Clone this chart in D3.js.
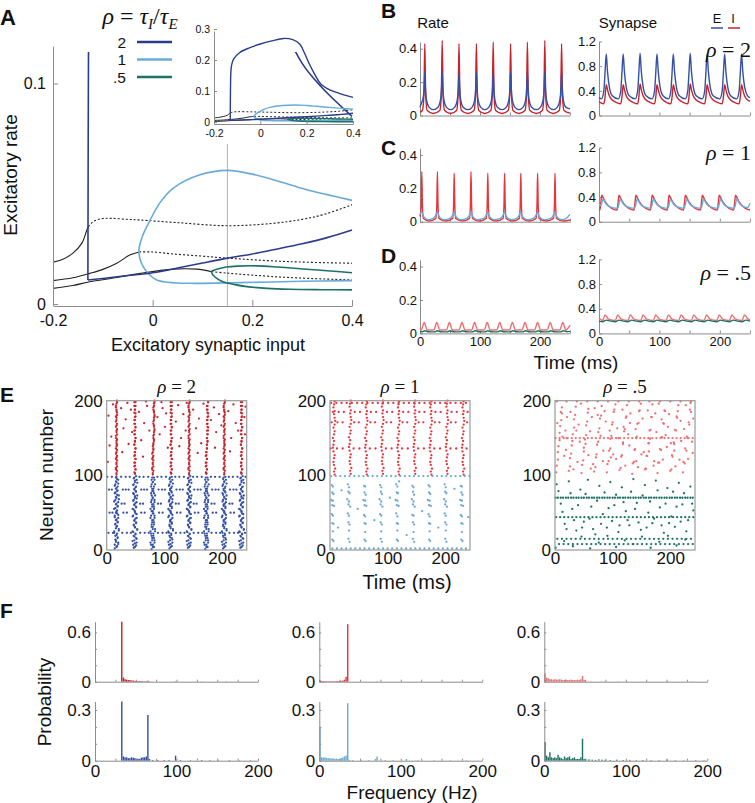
<!DOCTYPE html>
<html><head><meta charset="utf-8">
<script src="https://cdn.jsdelivr.net/npm/d3@7/dist/d3.min.js"></script>
<style>html,body{margin:0;padding:0;background:#fff}svg{display:block}</style>
</head><body>
<svg id="chart" width="755" height="803" xmlns="http://www.w3.org/2000/svg"></svg>
<script>
// ======================= DATA =======================
// ---- Panel A : branches [excitatory synaptic input, excitatory rate]
const rhoValues = ["2", "1", ".5"];
const aXTicks = [-0.2, 0, 0.2, 0.4];
const aYTicks = [0, 0.1];
const insetYTicks = [0, 0.1, 0.2, 0.3];
const markerLine = [[0.15, 0], [0.15, 0.0735]];
const black1Solid = [[-0.2,0.0199],[-0.18,0.0212],[-0.16,0.024],[-0.142,0.0285],[-0.132,0.0345],[-0.129,0.036]];
const black1Dotted = [[-0.129,0.036],[-0.119,0.0383],[-0.105,0.0395],[-0.092,0.0398],[-0.05,0.0393],[-0.026,0.039],[0.05,0.0378],[0.15,0.0364],[0.242,0.0375],[0.3,0.0393],[0.342,0.0414],[0.4,0.0459]];
const black2Solid = [[-0.2,0.0115],[-0.16,0.0128],[-0.126,0.0148],[-0.1,0.0166],[-0.072,0.0194],[-0.045,0.0232],[-0.027,0.0245]];
const black2Dotted = [[-0.027,0.0245],[0,0.0245],[0.041,0.0236],[0.1,0.0226],[0.15,0.0217],[0.275,0.0201],[0.4,0.0194]];
const black3Solid = [[-0.2,0.008],[-0.16,0.0093],[-0.126,0.011],[-0.075,0.0128],[-0.025,0.0148],[0.041,0.0167],[0.088,0.0167],[0.118,0.0156]];
const black3Dotted = [[0.118,0.0156],[0.15,0.0149],[0.2,0.014],[0.275,0.0129],[0.4,0.0118]];
const rho2Lower = [[-0.13,0.0118],[-0.1,0.0125],[-0.05,0.0138],[0,0.0151],[0.05,0.0172],[0.1,0.0195],[0.15,0.0217],[0.2,0.0236],[0.242,0.0255],[0.3,0.0282],[0.35,0.031],[0.4,0.0345]];
const rho2Upper = [[-0.13,0.0118],[-0.1295,0.06],[-0.129,0.1],[-0.127,0.17],[-0.124,0.19],[-0.115,0.21],[-0.09,0.23],[-0.05,0.245],[0,0.258],[0.05,0.268],[0.1,0.276],[0.14,0.272],[0.17,0.258],[0.19,0.23],[0.21,0.196],[0.235,0.16],[0.26,0.13],[0.3,0.11],[0.34,0.099],[0.4,0.086]];
const rho1Loop = [[0.4,0.0479],[0.35,0.0505],[0.309,0.0527],[0.242,0.0573],[0.2,0.0598],[0.15,0.0615],[0.095,0.0595],[0.0415,0.0535],[0.015,0.047],[-0.005,0.039],[-0.02,0.032],[-0.0275,0.0255],[-0.025,0.021],[-0.019,0.0179],[-0.008,0.0145],[0.008,0.0118],[0.03,0.0108],[0.075,0.0103],[0.175,0.0106],[0.3,0.0112],[0.4,0.0115]];
const rho05Loop = [[0.4,0.0151],[0.35,0.016],[0.309,0.0167],[0.25,0.0177],[0.209,0.0182],[0.17,0.0181],[0.148,0.0177],[0.13,0.0168],[0.118,0.0156],[0.122,0.0138],[0.13,0.0123],[0.141,0.011],[0.165,0.0097],[0.189,0.0088],[0.23,0.008],[0.275,0.0076],[0.34,0.0074],[0.4,0.0073]];

// ---- Panels B-D : time series [time ms, value]
const timeTicks = [0, 50, 100, 150, 200, 250];
const timeLabels = [0, 100, 200];
const rateTicks = [0, 0.2, 0.4];
const synTicks = [0, 0.4, 0.8, 1.2];
const rateI_B = [[0,0.02],[4,0.03],[6.5,0.12],[8,0.43],[9.5,0.12],[12,0.03],[22,0.012],[33,0.03],[35.5,0.12],[37,0.45],[38.5,0.12],[41,0.03],[51,0.012],[61,0.03],[63.5,0.12],[65,0.43],[66.5,0.12],[69,0.03],[80,0.012],[90,0.03],[92.5,0.12],[94,0.43],[95.5,0.12],[98,0.03],[108,0.012],[118,0.03],[120.5,0.12],[122,0.44],[123.5,0.12],[126,0.03],[137,0.012],[147,0.03],[149.5,0.12],[151,0.43],[152.5,0.12],[155,0.03],[165,0.012],[175,0.03],[177.5,0.12],[179,0.44],[180.5,0.12],[183,0.03],[194,0.012],[204,0.03],[206.5,0.12],[208,0.45],[209.5,0.12],[212,0.03],[222,0.012],[232,0.03],[234.5,0.12],[236,0.43],[237.5,0.12],[240,0.03],[250,0.014]];
const rateE_B = [[0,0.05],[3,0.08],[5,0.1],[7,0.17],[8,0.26],[9,0.17],[11,0.09],[15,0.05],[22,0.035],[30,0.05],[34,0.09],[36,0.17],[37,0.26],[38,0.17],[40,0.09],[44,0.05],[51,0.035],[58,0.05],[62,0.09],[64,0.17],[65,0.25],[66,0.17],[68,0.09],[72,0.05],[80,0.035],[87,0.05],[91,0.09],[93,0.17],[94,0.26],[95,0.17],[97,0.09],[101,0.05],[108,0.035],[115,0.05],[119,0.09],[121,0.17],[122,0.26],[123,0.17],[125,0.09],[129,0.05],[137,0.035],[144,0.05],[148,0.09],[150,0.17],[151,0.26],[152,0.17],[154,0.09],[158,0.05],[165,0.035],[172,0.05],[176,0.09],[178,0.17],[179,0.26],[180,0.17],[182,0.09],[186,0.05],[194,0.035],[201,0.05],[205,0.09],[207,0.17],[208,0.26],[209,0.17],[211,0.09],[215,0.05],[222,0.035],[229,0.05],[233,0.09],[235,0.17],[236,0.26],[237,0.17],[239,0.09],[243,0.05],[250,0.04]];
const synE_B = [[0,0.29],[4,0.27],[8,0.4],[10,0.7],[12,1.0],[14,0.72],[17,0.47],[22,0.32],[32,0.27],[36,0.4],[38,0.7],[40,1.0],[42,0.72],[45,0.47],[50,0.32],[60,0.27],[64,0.4],[66,0.7],[68,1.01],[70,0.72],[73,0.47],[78,0.32],[88,0.27],[92,0.4],[94,0.7],[96,1.0],[98,0.72],[101,0.47],[106,0.32],[115,0.27],[119,0.4],[121,0.7],[123,1.0],[125,0.72],[128,0.47],[133,0.32],[143,0.27],[147,0.4],[149,0.7],[151,1.01],[153,0.72],[156,0.47],[161,0.32],[171,0.27],[175,0.4],[177,0.7],[179,1.0],[181,0.72],[184,0.47],[189,0.32],[200,0.27],[204,0.4],[206,0.7],[208,1.0],[210,0.72],[213,0.47],[218,0.32],[228,0.27],[232,0.4],[234,0.7],[236,1.0],[238,0.72],[241,0.47],[246,0.32],[250,0.29]];
const synI_B = [[0,0.22],[4,0.2],[8,0.19],[10,0.3],[12,0.5],[14,0.42],[17,0.32],[22,0.25],[29,0.21],[36,0.19],[38,0.3],[40,0.5],[42,0.42],[45,0.32],[50,0.25],[57,0.21],[64,0.19],[66,0.3],[68,0.51],[70,0.42],[73,0.32],[78,0.25],[85,0.21],[92,0.19],[94,0.3],[96,0.5],[98,0.42],[101,0.32],[106,0.25],[112,0.21],[119,0.19],[121,0.3],[123,0.5],[125,0.42],[128,0.32],[133,0.25],[140,0.21],[147,0.19],[149,0.3],[151,0.51],[153,0.42],[156,0.32],[161,0.25],[168,0.21],[175,0.19],[177,0.3],[179,0.5],[181,0.42],[184,0.32],[189,0.25],[197,0.21],[204,0.19],[206,0.3],[208,0.5],[210,0.42],[213,0.32],[218,0.25],[225,0.21],[232,0.19],[234,0.3],[236,0.5],[238,0.42],[241,0.32],[246,0.25],[250,0.23]];
const rateI_C = [[0,0.03],[2,0.1],[3,0.3],[4,0.1],[5.5,0.02],[15,0.004],[26.5,0.02],[28,0.1],[29,0.3],[30,0.1],[31.5,0.02],[43,0.004],[54.5,0.02],[56,0.1],[57,0.29],[58,0.1],[59.5,0.02],[71,0.004],[82.5,0.02],[84,0.1],[85,0.3],[86,0.1],[87.5,0.02],[99,0.004],[110.5,0.02],[112,0.1],[113,0.29],[114,0.1],[115.5,0.02],[127,0.004],[138.5,0.02],[140,0.1],[141,0.29],[142,0.1],[143.5,0.02],[155,0.004],[165.5,0.02],[167,0.1],[168,0.29],[169,0.1],[170.5,0.02],[182,0.004],[193.5,0.02],[195,0.1],[196,0.29],[197,0.1],[198.5,0.02],[210,0.004],[222.5,0.02],[224,0.1],[225,0.29],[226,0.1],[227.5,0.02],[239,0.004],[250,0.01]];
const rateE_C = [[0,0.045],[1.5,0.055],[3,0.058],[4.5,0.045],[7,0.025],[14,0.012],[21,0.018],[25,0.03],[27.5,0.048],[29,0.058],[30.5,0.045],[33,0.025],[40,0.012],[49,0.018],[53,0.03],[55.5,0.048],[57,0.056],[58.5,0.045],[61,0.025],[68,0.012],[77,0.018],[81,0.03],[83.5,0.048],[85,0.058],[86.5,0.045],[89,0.025],[96,0.012],[105,0.018],[109,0.03],[111.5,0.048],[113,0.056],[114.5,0.045],[117,0.025],[124,0.012],[133,0.018],[137,0.03],[139.5,0.048],[141,0.057],[142.5,0.045],[145,0.025],[152,0.012],[160,0.018],[164,0.03],[166.5,0.048],[168,0.056],[169.5,0.045],[172,0.025],[179,0.012],[188,0.018],[192,0.03],[194.5,0.048],[196,0.057],[197.5,0.045],[200,0.025],[207,0.012],[217,0.018],[221,0.03],[223.5,0.048],[225,0.056],[226.5,0.045],[229,0.025],[236,0.012],[244,0.02],[250,0.045]];
const synI_C = [[0,0.19],[1.5,0.19],[3,0.3],[4.5,0.43],[6.5,0.4],[10.5,0.32],[16.5,0.25],[24.5,0.2],[30,0.19],[31.5,0.3],[33,0.43],[35,0.4],[39,0.32],[45,0.25],[53,0.2],[58,0.19],[59.5,0.3],[61,0.43],[63,0.4],[67,0.32],[73,0.25],[81,0.2],[85,0.19],[86.5,0.3],[88,0.43],[90,0.4],[94,0.32],[100,0.25],[108,0.2],[113,0.19],[114.5,0.3],[116,0.43],[118,0.4],[122,0.32],[128,0.25],[136,0.2],[140,0.19],[141.5,0.3],[143,0.43],[145,0.4],[149,0.32],[155,0.25],[163,0.2],[168,0.19],[169.5,0.3],[171,0.43],[173,0.4],[177,0.32],[183,0.25],[191,0.2],[196,0.19],[197.5,0.3],[199,0.43],[201,0.4],[205,0.32],[211,0.25],[219,0.2],[223,0.19],[224.5,0.3],[226,0.43],[228,0.4],[232,0.32],[238,0.25],[246,0.2],[250,0.19]];
const synE_C = [[0,0.3],[2.5,0.26],[4.5,0.3],[6.5,0.37],[8.5,0.34],[12.5,0.28],[18.5,0.24],[26.5,0.22],[31,0.22],[33,0.28],[35,0.37],[37,0.34],[41,0.28],[47,0.24],[55,0.22],[59,0.22],[61,0.28],[63,0.37],[65,0.34],[69,0.28],[75,0.24],[83,0.22],[86,0.22],[88,0.28],[90,0.37],[92,0.34],[96,0.28],[102,0.24],[110,0.22],[114,0.22],[116,0.28],[118,0.37],[120,0.34],[124,0.28],[130,0.24],[138,0.22],[141,0.22],[143,0.28],[145,0.37],[147,0.34],[151,0.28],[157,0.24],[165,0.22],[169,0.22],[171,0.28],[173,0.37],[175,0.34],[179,0.28],[185,0.24],[193,0.22],[197,0.22],[199,0.28],[201,0.37],[203,0.34],[207,0.28],[213,0.24],[221,0.22],[224,0.22],[226,0.28],[228,0.37],[230,0.34],[234,0.28],[240,0.24],[246,0.23],[250,0.3]];
const rateI_D = [[0,0.03],[2,0.02],[7,0.065],[12,0.02],[23,0.02],[28,0.065],[33,0.02],[44,0.02],[49,0.065],[54,0.02],[65,0.02],[70,0.065],[75,0.02],[86,0.02],[91,0.065],[96,0.02],[107,0.02],[112,0.065],[117,0.02],[128,0.02],[133,0.065],[138,0.02],[149,0.02],[154,0.065],[159,0.02],[170,0.02],[175,0.065],[180,0.02],[191,0.02],[196,0.065],[201,0.02],[212,0.02],[217,0.065],[222,0.02],[233,0.02],[238,0.065],[243,0.02],[250,0.05]];
const rateE_D = [[0,0.012],[3,0.009],[8,0.016],[14,0.01],[24,0.009],[29,0.016],[35,0.01],[45,0.009],[50,0.016],[56,0.01],[66,0.009],[71,0.016],[77,0.01],[87,0.009],[92,0.016],[98,0.01],[108,0.009],[113,0.016],[119,0.01],[129,0.009],[134,0.016],[140,0.01],[150,0.009],[155,0.016],[161,0.01],[171,0.009],[176,0.016],[182,0.01],[192,0.009],[197,0.016],[203,0.01],[213,0.009],[218,0.016],[224,0.01],[234,0.009],[239,0.016],[245,0.01],[250,0.012]];
const synI_D = [[0,0.25],[6,0.21],[10,0.3],[16,0.23],[27,0.21],[31,0.3],[37,0.23],[48,0.21],[52,0.3],[58,0.23],[69,0.21],[73,0.3],[79,0.23],[90,0.21],[94,0.3],[100,0.23],[111,0.21],[115,0.3],[121,0.23],[132,0.21],[136,0.3],[142,0.23],[153,0.21],[157,0.3],[163,0.23],[174,0.21],[178,0.3],[184,0.23],[195,0.21],[199,0.3],[205,0.23],[216,0.21],[220,0.3],[226,0.23],[237,0.21],[241,0.3],[247,0.23],[250,0.22]];
const synE_D = [[0,0.2],[6,0.19],[12,0.215],[19,0.2],[27,0.19],[33,0.215],[40,0.2],[48,0.19],[54,0.215],[61,0.2],[69,0.19],[75,0.215],[82,0.2],[90,0.19],[96,0.215],[103,0.2],[111,0.19],[117,0.215],[124,0.2],[132,0.19],[138,0.215],[145,0.2],[153,0.19],[159,0.215],[166,0.2],[174,0.19],[180,0.215],[187,0.2],[195,0.19],[201,0.215],[208,0.2],[216,0.19],[222,0.215],[229,0.2],[237,0.19],[243,0.215],[250,0.2]];

// ---- Panel E : rasters, flat [time, neuron, time, neuron, ...]
const neuronTicks = [0, 100, 200];
const rasterI_2 = [
17,101,18,106,16,110,17,115,18,120,17,124,16,129,18,134,17,139,17,143,18,148,16,153,17,158,18,162,17,167,16,172,17,177,18,181,17,186,16,191,17,196,18,200,
49,102,48,104,50,108,49,113,48,117,50,122,49,127,49,131,50,136,48,141,49,145,50,150,49,155,48,160,50,164,49,169,48,174,49,178,50,183,49,188,48,193,50,198,
80,101,81,106,79,110,80,115,81,120,80,124,79,129,81,134,80,139,81,143,82,148,81,153,82,158,83,162,82,167,81,172,82,177,83,181,82,186,81,191,82,196,83,200,
112,102,111,104,113,108,112,113,111,117,113,122,112,127,112,131,113,136,111,141,112,145,113,150,112,155,111,160,113,164,112,169,111,174,112,178,113,183,112,188,111,193,113,198,
143,101,144,106,142,110,143,115,144,120,143,124,142,129,144,134,143,139,143,143,144,148,142,153,143,158,144,162,143,167,142,172,143,177,144,181,143,186,142,191,143,196,144,200,
173,102,172,104,174,108,173,113,172,117,174,122,173,127,173,131,174,136,174,141,175,145,174,150,175,155,174,160,176,164,175,169,174,174,175,178,176,183,175,188,174,193,176,198,
204,101,205,106,203,110,204,115,205,120,204,124,203,129,205,134,204,139,204,143,205,148,203,153,204,158,205,162,204,167,203,172,204,177,205,181,204,186,203,191,204,196,205,200,
234,102,233,104,235,108,234,113,233,117,235,122,234,127,234,131,235,136,233,141,234,145,235,150,234,155,233,160,235,164,234,169,233,174,234,178,235,183,234,188,233,193,235,198,
17,103,16,108,18,112,17,117,16,122,18,126,17,131,16,136,18,141,17,146,16,150,18,155,17,160,16,165,18,169,17,174,16,179,18,184,17,188,16,193,18,198,
49,103,50,108,48,112,49,117,50,122,48,126,49,131,50,136,48,141,49,146,50,150,48,155,49,160,50,165,48,169,49,174,50,179,48,184,49,188,50,193,48,198,
80,103,79,108,81,112,80,117,79,122,81,126,80,131,81,136,81,141,82,146,81,150,82,155,83,160,82,165,81,169,82,174,83,179,82,184,81,188,82,193,83,198,
112,103,113,108,111,112,112,117,113,122,111,126,112,131,113,136,111,141,112,146,113,150,111,155,112,160,113,165,111,169,112,174,113,179,111,184,112,188,113,193,111,198,
143,103,142,108,144,112,143,117,142,122,144,126,143,131,142,136,144,141,143,146,142,150,144,155,143,160,142,165,144,169,143,174,142,179,144,184,143,188,142,193,144,198,
173,103,174,108,172,112,173,117,174,122,172,126,173,131,174,136,174,141,175,146,174,150,175,155,176,160,175,165,174,169,175,174,176,179,175,184,174,188,175,193,176,198,
204,103,203,108,205,112,204,117,203,122,205,126,204,131,203,136,205,141,204,146,203,150,205,155,204,160,203,165,205,169,204,174,203,179,205,184,204,188,203,193,205,198,
234,103,235,108,233,112,234,117,235,122,233,126,234,131,235,136,233,141,234,146,235,150,233,155,234,160,235,165,233,169,234,174,235,179,233,184,234,188,235,193,233,198,
3,180,8,152,5,140,11,195,2,118,25,190,29,163,33,175,38,142,42,188,27,131,36,197,44,158,56,185,60,147,65,170,70,193,74,160,63,125,68,199,
88,178,92,155,97,190,101,165,106,137,95,198,103,183,120,172,124,194,129,150,133,182,137,160,126,139,139,197,150,188,155,163,160,176,164,143,168,196,158,130,
181,174,186,191,190,158,195,182,199,167,188,137,211,186,216,150,220,195,224,170,228,160,214,132,239,178,241,192,240,155];
const rasterE_2 = [
14,2,18,5,20,8,16,11,15,14,19,17,17,20,13,23,21,26,16,29,18,32,15,35,19,38,17,41,14,44,20,47,16,50,18,53,15,56,19,59,17,62,13,65,21,68,16,71,18,74,15,77,19,80,17,83,14,86,20,89,16,92,18,95,17,98,
47,3,51,6,49,9,45,12,52,15,48,18,50,21,46,24,53,27,49,30,47,33,51,36,48,39,50,42,45,45,52,48,49,51,47,54,51,57,48,60,50,63,46,66,52,69,49,72,47,75,51,78,48,81,50,84,46,87,53,90,49,93,47,96,51,99,
78,1,82,4,80,7,76,10,83,13,79,16,81,19,77,22,84,25,80,28,78,31,82,34,79,37,81,40,76,43,83,46,80,49,78,52,82,55,79,58,81,61,77,64,83,67,80,70,78,73,82,76,79,79,81,82,77,85,84,88,80,91,78,94,82,97,
109,2,113,5,111,8,107,11,114,14,110,17,112,20,108,23,115,26,111,29,109,32,113,35,110,38,112,41,107,44,114,47,111,50,109,53,113,56,110,59,112,62,108,65,114,68,111,71,109,74,113,77,110,80,112,83,108,86,115,89,111,92,109,95,113,98,
141,3,145,6,143,9,139,12,146,15,142,18,144,21,140,24,147,27,143,30,141,33,145,36,142,39,144,42,139,45,146,48,143,51,141,54,145,57,142,60,144,63,140,66,146,69,143,72,141,75,145,78,142,81,144,84,140,87,147,90,143,93,141,96,145,99,
171,1,175,4,173,7,169,10,176,13,172,16,174,19,170,22,177,25,173,28,171,31,175,34,172,37,174,40,169,43,176,46,173,49,171,52,175,55,172,58,174,61,170,64,176,67,173,70,171,73,175,76,172,79,174,82,170,85,177,88,173,91,171,94,175,97,
202,2,206,5,204,8,200,11,207,14,203,17,205,20,201,23,208,26,204,29,202,32,206,35,203,38,205,41,200,44,207,47,204,50,202,53,206,56,203,59,205,62,201,65,207,68,204,71,202,74,206,77,203,80,205,83,201,86,208,89,204,92,202,95,206,98,
232,3,236,6,234,9,230,12,237,15,233,18,235,21,231,24,238,27,234,30,232,33,236,36,233,39,235,42,230,45,237,48,234,51,232,54,236,57,233,60,235,63,231,66,237,69,234,72,232,75,236,78,233,81,235,84,231,87,238,90,234,93,232,96,236,99,
17,4,14,7,20,10,16,13,19,16,15,19,18,22,13,25,21,28,17,31,15,34,19,37,16,40,20,43,14,46,18,49,17,52,13,55,19,58,16,61,20,64,15,67,17,70,21,73,14,76,18,79,16,82,19,85,15,88,17,91,20,94,16,97,
49,4,46,7,52,10,48,13,51,16,47,19,50,22,45,25,53,28,49,31,47,34,51,37,48,40,52,43,46,46,50,49,49,52,45,55,51,58,48,61,52,64,47,67,49,70,53,73,46,76,50,79,48,82,51,85,47,88,49,91,52,94,48,97,
80,4,77,7,83,10,79,13,82,16,78,19,81,22,76,25,84,28,80,31,78,34,82,37,79,40,83,43,77,46,81,49,80,52,76,55,82,58,79,61,83,64,78,67,80,70,84,73,77,76,81,79,79,82,82,85,78,88,80,91,83,94,79,97,
111,4,108,7,114,10,110,13,113,16,109,19,112,22,107,25,115,28,111,31,109,34,113,37,110,40,114,43,108,46,112,49,111,52,107,55,113,58,110,61,114,64,109,67,111,70,115,73,108,76,112,79,110,82,113,85,109,88,111,91,114,94,110,97,
143,4,140,7,146,10,142,13,145,16,141,19,144,22,139,25,147,28,143,31,141,34,145,37,142,40,146,43,140,46,144,49,143,52,139,55,145,58,142,61,146,64,141,67,143,70,147,73,140,76,144,79,142,82,145,85,141,88,143,91,146,94,142,97,
173,4,170,7,176,10,172,13,175,16,171,19,174,22,169,25,177,28,173,31,171,34,175,37,172,40,176,43,170,46,174,49,173,52,169,55,175,58,172,61,176,64,171,67,173,70,177,73,170,76,174,79,172,82,175,85,171,88,173,91,176,94,172,97,
204,4,201,7,207,10,203,13,206,16,202,19,205,22,200,25,208,28,204,31,202,34,206,37,203,40,207,43,201,46,205,49,204,52,200,55,206,58,203,61,207,64,202,67,204,70,208,73,201,76,205,79,203,82,206,85,202,88,204,91,207,94,203,97,
234,4,231,7,237,10,233,13,236,16,232,19,235,22,230,25,238,28,234,31,232,34,236,37,233,40,237,43,231,46,235,49,234,52,230,55,236,58,233,61,237,64,232,67,234,70,238,73,231,76,235,79,233,82,236,85,232,88,234,91,237,94,233,97];
const rowsE_2 = [
 [23, [3,11,27,35,42,58,66,73,89,97,104,120,128,135,151,159,166,182,190,197,213,221,228,240]],
 [98, [1,9,25,33,40,57,64,72,88,95,103,119,126,134,150,157,165,181,188,196,212,219,227,241]],
 [81, [4,9,28,33,38,60,65,70,90,96,101,121,127,132,152,158,163,183,189,194,214,220,225]],
 [62, [26,31,58,63,89,94,120,125,151,156,182,187,213,218]],
 [50, [5,10,29,35,60,66,91,97,122,128,153,159,184,190,215,221]]];
const rasterI_1 = [
8,101,7,105,9,109,7,114,6,118,7,123,8,127,6,132,5,137,6,141,7,146,5,150,7,155,8,159,6,164,8,168,9,173,8,177,7,182,8,186,6,191,7,195,8,199,
36,102,35,106,37,110,35,115,34,119,35,124,36,128,34,133,33,138,34,142,35,147,33,151,35,156,36,160,34,165,36,169,37,174,36,178,35,183,36,187,34,192,35,196,36,200,
64,101,63,105,65,109,63,114,62,118,63,123,64,127,62,132,61,137,62,141,63,146,61,150,63,155,64,159,62,164,64,168,65,173,64,177,63,182,64,186,62,191,63,195,64,199,
92,102,91,106,93,110,91,115,90,119,91,124,92,128,90,133,89,138,90,142,91,147,89,151,91,156,92,160,90,165,92,169,93,174,92,178,91,183,92,187,90,192,91,196,92,200,
120,101,119,105,121,109,119,114,118,118,119,123,120,127,118,132,117,137,118,141,119,146,117,150,119,155,120,159,118,164,120,168,121,173,120,177,119,182,120,186,118,191,119,195,120,199,
148,102,147,106,149,110,147,115,146,119,147,124,148,128,146,133,145,138,146,142,147,147,145,151,147,156,148,160,146,165,148,169,149,174,148,178,147,183,148,187,146,192,147,196,148,200,
176,101,175,105,177,109,175,114,174,118,175,123,176,127,174,132,173,137,174,141,175,146,173,150,175,155,176,159,174,164,176,168,177,173,176,177,175,182,176,186,174,191,175,195,176,199,
204,102,203,106,205,110,203,115,202,119,203,124,204,128,202,133,201,138,202,142,203,147,201,151,203,156,204,160,202,165,204,169,205,174,204,178,203,183,204,187,202,192,203,196,204,200,
232,101,231,105,233,109,231,114,230,118,231,123,232,127,230,132,229,137,230,141,231,146,229,150,231,155,232,159,230,164,232,168,233,173,232,177,231,182,232,186,230,191,231,195,232,199];
const rowsI_1 = [
 [197, [2,11,20,29,38,47,56,65,74,83,92,101,110,119,128,137,146,155,164,173,182,191,200,209,218,227,236]],
 [185, [5,15,24,43,52,71,80,99,108,127,136,155,164,183,192,211,220,239]],
 [171, [3,13,22,42,50,70,78,98,106,126,134,154,162,182,190,210,218,238]],
 [136, [1,12,22,41,51,69,79,97,107,125,135,153,163,181,191,209,219,237]]];
const rasterE_1 = [
3,87,5,85,4,77,6,75,2,67,5,66,4,60,7,59,3,48,5,46,4,36,6,35,5,25,4,14,6,12,
31,88,33,84,32,78,34,76,30,68,33,65,32,61,35,58,31,49,33,46,32,37,34,34,33,26,32,15,34,11,
59,86,61,85,60,77,62,74,58,67,61,66,60,60,63,59,59,47,61,45,60,36,62,35,61,24,60,14,62,12,
87,87,89,84,88,78,90,75,86,68,89,65,88,61,91,58,87,48,89,46,88,37,90,34,89,25,88,15,90,11,
115,88,117,85,116,77,118,76,114,67,117,66,116,60,119,59,115,49,117,45,116,36,118,35,117,26,116,14,118,12,
143,86,145,84,144,78,146,74,142,68,145,65,144,61,147,58,143,47,145,46,144,37,146,34,145,24,144,15,146,11,
171,87,173,85,172,77,174,75,170,67,173,66,172,60,175,59,171,48,173,45,172,36,174,35,173,25,172,14,174,12,
199,88,201,84,200,78,202,76,198,68,201,65,200,61,203,58,199,49,201,46,200,37,202,34,201,26,200,15,202,11,
227,86,229,85,228,77,230,74,226,67,229,66,228,60,231,59,227,47,229,45,228,36,230,35,229,24,228,14,230,12,
20,80,48,55,77,40,104,70,133,20,160,52,188,30,216,82,240,44,14,30,120,92];
const rowsE_1 = [
 [99, [2,10,18,26,34,42,50,58,66,74,82,90,98,106,114,122,130,138,146,154,162,170,178,186,194,202,210,218,226,234,242]],
 [2, [4,12,20,28,36,44,52,60,68,76,84,92,100,108,116,124,132,140,148,156,164,172,180,188,196,204,212,220,228,236]]];
const rasterI_05 = [
2,104,3,113,5,121,5,131,6,139,8,147,8,157,9,166,11,174,12,183,12,191,16,126,18,160,
24,106,26,112,26,123,28,129,29,140,30,146,31,155,33,164,33,175,35,181,36,192,39,118,41,168,20,150,
46,103,47,114,49,120,50,132,50,137,52,148,54,154,54,167,56,172,57,184,58,189,62,109,64,178,
68,105,70,111,71,124,72,128,73,141,75,145,75,158,77,163,78,176,80,180,81,193,84,133,86,186,
90,104,91,115,93,119,94,133,96,136,96,149,98,153,99,168,100,171,102,185,103,188,106,122,108,163,
112,107,114,110,115,125,116,127,118,142,118,144,120,159,121,162,123,177,124,179,125,194,129,140,130,170,
134,102,135,116,137,118,138,134,139,135,141,150,142,152,143,169,145,170,146,186,147,187,150,128,152,176,
156,108,158,109,159,126,160,126,162,143,163,143,164,160,166,161,167,178,168,178,169,195,172,119,174,183,
178,103,179,117,181,117,182,135,184,134,185,151,186,151,188,170,189,169,190,187,191,186,194,138,196,165,
200,106,202,108,203,127,204,125,206,144,207,142,208,161,210,160,211,179,212,177,214,194,216,121,218,173,
222,104,223,118,225,116,226,136,228,133,229,152,230,150,232,171,233,168,234,188,236,185,239,130,240,176,
10,185,13,152,19,134,21,178,32,108,37,160,43,145,45,196,58,127,61,159,66,115,69,190,79,153,83,119,88,172,95,160,101,128,105,195,110,150,117,188,122,113,127,155,131,183,140,162,144,111,149,196,154,131,161,187,165,149,171,113,176,158,180,196,187,121,192,154,198,182,201,143,209,112,213,186,219,146,224,162,231,122,235,197,238,145,4,170,27,185,53,142,74,181,97,124,119,165,141,119,163,132,185,175,207,133,227,194];
const rowsI_05 = [
 [150, [1,8,15,22,29,36,43,50,57,64,71,78,85,92,99,106,113,120,127,134,141,148,155,162,169,176,183,190,197,204,211,218,225,232,239]],
 [199, [3,20,38,56,74,92,110,128,146,164,182,200,218,236]]];
const rasterE_05 = [
3,88,10,62,17,35,24,92,30,55,37,26,44,81,50,38,57,94,63,58,70,21,77,86,83,48,90,30,96,91,103,60,110,24,116,84,123,52,129,33,136,95,142,63,149,27,156,87,162,50,169,36,175,93,182,57,189,23,195,83,202,45,208,31,215,90,221,61,228,25,235,85,240,53,
6,79,13,51,20,28,27,76,33,40,40,60,47,30,53,75,60,42,66,28,73,66,80,35,86,77,93,56,99,39,106,74,112,33,119,64,126,40,132,78,139,55,145,37,152,73,159,30,165,65,172,42,178,80,185,33,192,62,198,36,205,78,211,58,218,38,224,76,231,40,238,62,
1,3,16,12,31,5,46,18,61,2,76,10,91,19,106,4,121,13,136,8,151,18,166,3,181,11,196,19,211,6,226,14];
const rowsE_05 = [
 [70, [1,5,10,14,19,23,28,32,37,41,46,50,55,59,64,68,73,77,82,86,91,95,100,104,109,113,118,122,127,131,136,140,145,149,154,158,163,167,172,176,181,185,190,194,199,203,208,212,217,221,226,230,235,239]],
 [44, [2,9,16,23,30,37,44,51,58,65,72,79,86,93,100,107,114,121,128,135,142,149,156,163,170,177,184,191,198,205,212,219,226,233,240]],
 [15, [4,12,20,28,36,44,52,60,68,76,84,92,100,108,116,124,132,140,148,156,164,172,180,188,196,204,212,220,228,236]],
 [8, [7,15,23,31,39,47,55,63,71,79,87,95,103,111,119,127,135,143,151,159,167,175,183,191,199,207,215,223,231,239]]];

// ---- Panel F : frequency histograms [bin start Hz, probability]
const freqTicks = [0, 100, 200];
const probTicksTop = [0, 0.6];
const probTicksBottom = [0, 0.3];
const histI_2 = [[32,0.73],[34,0.05],[36,0.03],[38,0.025],[40,0.02],[42,0.02],[44,0.015],[46,0.015],[48,0.01],[50,0.01],[52,0.008],[54,0.008],[56,0.006],[58,0.006],[60,0.005],[62,0.005],[64,0.012],[66,0.003],[98,0.004],[130,0.003],[160,0.003]];
const histE_2 = [[32,0.35],[34,0.025],[36,0.02],[38,0.02],[40,0.015],[42,0.015],[44,0.02],[46,0.018],[48,0.015],[50,0.012],[52,0.012],[54,0.01],[56,0.018],[58,0.02],[60,0.02],[62,0.025],[64,0.27],[66,0.01],[70,0.004],[76,0.004],[84,0.004],[90,0.004],[98,0.03],[104,0.004],[116,0.003],[130,0.004],[140,0.003],[150,0.003],[164,0.003],[176,0.002],[190,0.002]];
const histI_1 = [[0,0.015],[2,0.01],[4,0.008],[6,0.006],[8,0.006],[10,0.005],[12,0.005],[14,0.006],[16,0.005],[18,0.006],[20,0.008],[22,0.008],[24,0.01],[26,0.01],[28,0.015],[30,0.025],[32,0.06],[34,0.7],[70,0.004]];
const histE_1 = [[0,0.2],[2,0.02],[4,0.018],[6,0.02],[8,0.016],[10,0.015],[12,0.015],[14,0.012],[16,0.015],[18,0.01],[20,0.012],[22,0.01],[24,0.01],[26,0.015],[28,0.02],[30,0.025],[32,0.03],[34,0.34],[36,0.005],[40,0.004],[50,0.004],[60,0.004],[68,0.01],[70,0.025],[80,0.004],[90,0.003],[106,0.01],[120,0.003],[140,0.003],[160,0.003],[180,0.002]];
const histI_05 = [[0,0.1],[2,0.05],[4,0.04],[6,0.03],[8,0.03],[10,0.025],[12,0.03],[14,0.025],[16,0.025],[18,0.03],[20,0.025],[22,0.02],[24,0.02],[26,0.025],[28,0.02],[30,0.02],[32,0.025],[34,0.02],[36,0.02],[38,0.02],[40,0.025],[42,0.02],[44,0.03],[46,0.07],[48,0.02],[50,0.005],[56,0.004],[70,0.003],[90,0.003],[120,0.002],[150,0.003],[180,0.002]];
const histE_05 = [[0,0.11],[2,0.03],[4,0.02],[6,0.05],[8,0.02],[10,0.015],[12,0.02],[14,0.015],[16,0.035],[18,0.02],[20,0.015],[22,0.01],[24,0.025],[26,0.015],[28,0.02],[30,0.025],[32,0.01],[34,0.015],[36,0.02],[38,0.01],[40,0.01],[42,0.01],[44,0.02],[46,0.13],[48,0.01],[50,0.01],[54,0.008],[58,0.006],[62,0.005],[66,0.008],[70,0.006],[74,0.005],[80,0.004],[88,0.006],[96,0.004],[104,0.005],[112,0.003],[120,0.004],[130,0.003],[140,0.003],[150,0.006],[160,0.003],[170,0.002],[185,0.003],[195,0.002]];

// ======================= STYLE =======================
const AX = "#8c8c8c";
const SANS = "'Liberation Sans', Arial, Helvetica, sans-serif";
const SERIF = "'Liberation Serif', 'Times New Roman', serif";
const C_RHO = ["#2b3c8e", "#6aaad8", "#1d7266"];
const C_RED = ["#c6242c", "#e4363b", "#ee6f72"];
const C_EBLUE = ["#3551a6", "#6aaad8", "#1d7266"];

// ======================= DRAW =======================
const svg = d3.select("#chart");
const defs = svg.append("defs");

function txt(x, y, s, o = {}) {
  const t = svg.append("text").attr("x", x).attr("y", y).text(s)
    .attr("font-family", o.ff || SANS).attr("font-size", o.fs || 16)
    .attr("text-anchor", o.anchor || "start").attr("fill", o.fill || "#111");
  if (o.bold) t.attr("font-weight", "bold");
  if (o.rot) t.attr("transform", `rotate(-90,${x},${y})`);
  return t;
}
function rhoLabel(x, y, val, fs, anchor) {
  const t = svg.append("text").attr("x", x).attr("y", y).attr("font-family", SERIF)
    .attr("font-size", fs).attr("text-anchor", anchor).attr("fill", "#111");
  t.append("tspan").attr("font-style", "italic").text("ρ");
  t.append("tspan").text(" = " + val);
}
function axis(gen, tx, ty, fs) {
  const g = svg.append("g").attr("transform", `translate(${tx},${ty})`).call(gen);
  g.select(".domain").attr("stroke", AX);
  g.selectAll(".tick line").attr("stroke", AX);
  g.selectAll(".tick text").attr("font-family", SANS).attr("font-size", fs).attr("fill", "#111");
  return g;
}
function clip(id, x, y, w, h) {
  defs.append("clipPath").attr("id", id).append("rect").attr("x", x).attr("y", y).attr("width", w).attr("height", h);
}
const fmtNum = d => d === 0 ? "0" : (Math.abs(d) < 1 || d % 1 ? d.toFixed(1) : String(d));

// ---------- Panel A ----------
const xA = d3.scaleLinear([-0.2, 0.4], [53, 352]);
const yA = d3.scaleLinear([0, 0.117], [306, 48]);
clip("clipA", 53, 52, 300, 256);
svg.append("path").datum(markerLine)
  .attr("d", d3.line().x(d => xA(d[0])).y(d => yA(d[1])))
  .attr("stroke", "#b4b4b4").attr("stroke-width", 1).attr("fill", "none");

function drawBranches(xs, ys, clipId, sw) {
  const g = svg.append("g").attr("clip-path", `url(#${clipId})`);
  const ln = d3.line().x(d => xs(d[0])).y(d => ys(d[1])).curve(d3.curveCatmullRom.alpha(0.5));
  const add = (data, color, w, dash) => {
    const p = g.append("path").datum(data).attr("d", ln).attr("fill", "none")
      .attr("stroke", color).attr("stroke-width", w);
    if (dash) p.attr("stroke-dasharray", dash);
  };
  add(black1Solid, "#222", sw * 0.7);
  add(black2Solid, "#222", sw * 0.7);
  add(black3Solid, "#222", sw * 0.7);
  add(black1Dotted, "#222", sw * 0.7, "2,2");
  add(black2Dotted, "#222", sw * 0.7, "2,2");
  add(black3Dotted, "#222", sw * 0.7, "2,2");
  add(rho1Loop, C_RHO[1], sw);
  add(rho05Loop, C_RHO[2], sw);
  add(rho2Lower, C_RHO[0], sw);
  add(rho2Upper, C_RHO[0], sw);
}
drawBranches(xA, yA, "clipA", 1.6);
axis(d3.axisBottom(xA).tickValues(aXTicks).tickFormat(fmtNum).tickSizeInner(-6).tickSizeOuter(0).tickPadding(9), 0, 306, 16);
axis(d3.axisLeft(yA).tickValues(aYTicks).tickFormat(fmtNum).tickSizeInner(-5).tickSizeOuter(0).tickPadding(7), 53, -2, 16);
txt(208, 351, "Excitatory synaptic input", { fs: 18, anchor: "middle" });
txt(17, 175, "Excitatory rate", { fs: 19, anchor: "middle", rot: true });
txt(0, 25, "A", { fs: 22, bold: true });

// inset
const xI = d3.scaleLinear([-0.2, 0.4], [214, 353]);
const yI = d3.scaleLinear([0, 0.3], [124, 31]);
clip("clipI", 214, 28, 141, 96);
drawBranches(xI, yI, "clipI", 1.4);
axis(d3.axisBottom(xI).tickValues(aXTicks).tickFormat(fmtNum).tickSizeInner(-3).tickSizeOuter(0).tickPadding(6), 0, 124, 10.5);
axis(d3.axisLeft(yI).tickValues(insetYTicks).tickFormat(fmtNum).tickSizeInner(-3).tickSizeOuter(0).tickPadding(4), 214, -2, 10.5)
  .select(".domain").attr("transform", "translate(0,2)");

// legend
{
  const t = svg.append("text").attr("x", 140).attr("y", 24).attr("font-family", SERIF)
    .attr("font-size", 24).attr("text-anchor", "middle").attr("fill", "#111");
  t.append("tspan").attr("font-style", "italic").text("ρ");
  t.append("tspan").text(" = ");
  t.append("tspan").attr("font-style", "italic").text("τ");
  t.append("tspan").attr("font-style", "italic").attr("font-size", 15).attr("dy", 5).text("I");
  t.append("tspan").attr("dy", -5).text("/");
  t.append("tspan").attr("font-style", "italic").text("τ");
  t.append("tspan").attr("font-style", "italic").attr("font-size", 15).attr("dy", 5).text("E");
  const ly = d3.scalePoint(rhoValues, [42, 77]);
  rhoValues.forEach((r, i) => {
    txt(126, ly(r) + 5.5, r, { fs: 15.5, anchor: "end" });
    svg.append("line").attr("x1", 137).attr("x2", 172).attr("y1", ly(r)).attr("y2", ly(r))
      .attr("stroke", C_RHO[i]).attr("stroke-width", 2.5);
  });
}

// ---------- Panels B, C, D ----------
const xRate = d3.scaleLinear([0, 250], [420, 570]);
const xSyn = d3.scaleLinear([0, 250], [599, 750]);
const tsPanels = [
  { L: "B", y0: 115.5, rate: [rateE_B, rateI_B], syn: [synE_B, synI_B], rho: "2", i: 0, ly: 18, ry: 57 },
  { L: "C", y0: 221.7, rate: [rateE_C, rateI_C], syn: [synE_C, synI_C], rho: "1", i: 1, ly: 155, ry: 160 },
  { L: "D", y0: 333.4, rate: [rateE_D, rateI_D], syn: [synE_D, synI_D], rho: ".5", i: 2, ly: 263, ry: 280 }
];
tsPanels.forEach((p, k) => {
  const yR = d3.scaleLinear([0, 0.44], [p.y0, p.y0 - 0.44 * 167]);
  const yS = d3.scaleLinear([0, 1.2], [p.y0, p.y0 - 74]);
  const last = k === 2;
  const xf = d => (last && timeLabels.includes(d)) ? String(d) : "";
  axis(d3.axisBottom(xRate).tickValues(timeTicks).tickFormat(xf).tickSizeInner(-3).tickSizeOuter(0).tickPadding(3), 0, p.y0, 13);
  axis(d3.axisLeft(yR).tickValues(rateTicks).tickFormat(fmtNum).tickSizeInner(-3).tickSizeOuter(0).tickPadding(3), 420, 0, 13);
  axis(d3.axisBottom(xSyn).tickValues(timeTicks).tickFormat(xf).tickSizeInner(-3).tickSizeOuter(0).tickPadding(3), 0, p.y0, 13);
  axis(d3.axisLeft(yS).tickValues(synTicks).tickFormat(fmtNum).tickSizeInner(-3).tickSizeOuter(0).tickPadding(3), 599, 0, 13);
  const lr = d3.line().x(d => xRate(d[0])).y(d => yR(d[1])).curve(d3.curveMonotoneX);
  const ls = d3.line().x(d => xSyn(d[0])).y(d => yS(d[1])).curve(d3.curveMonotoneX);
  svg.append("path").datum(p.rate[1]).attr("d", lr).attr("fill", "none").attr("stroke", C_RED[p.i]).attr("stroke-width", 1.4);
  svg.append("path").datum(p.rate[0]).attr("d", lr).attr("fill", "none").attr("stroke", C_EBLUE[p.i]).attr("stroke-width", 1.4);
  svg.append("path").datum(p.syn[1]).attr("d", ls).attr("fill", "none").attr("stroke", C_RED[p.i]).attr("stroke-width", 1.4);
  svg.append("path").datum(p.syn[0]).attr("d", ls).attr("fill", "none").attr("stroke", C_EBLUE[p.i]).attr("stroke-width", 1.4);
  txt(381, p.ly, p.L, { fs: 21, bold: true });
  rhoLabel(751, p.ry, p.rho, 22, "end");
});
txt(433, 28, "Rate", { fs: 15, anchor: "middle" });
txt(628, 28, "Synapse", { fs: 15, anchor: "middle" });
txt(717, 23, "E", { fs: 13, anchor: "middle" });
txt(733, 23, "I", { fs: 13, anchor: "middle" });
svg.append("line").attr("x1", 711).attr("x2", 723).attr("y1", 28).attr("y2", 28).attr("stroke", C_EBLUE[0]).attr("stroke-width", 1.5);
svg.append("line").attr("x1", 728).attr("x2", 740).attr("y1", 28).attr("y2", 28).attr("stroke", C_RED[0]).attr("stroke-width", 1.5);
txt(576, 369, "Time (ms)", { fs: 19, anchor: "middle" });

// ---------- Panel E ----------
const toPts = a => { const r = []; for (let i = 0; i < a.length; i += 2) r.push([a[i], a[i + 1]]); return r; };
const rowPts = rows => rows.flatMap(([n, ts]) => ts.map(t => [t, n]));
const rasters = [
  { bx: 106.7, I: toPts(rasterI_2), E: toPts(rasterE_2).concat(rowPts(rowsE_2)), rho: "2", i: 0 },
  { bx: 330, I: toPts(rasterI_1).concat(rowPts(rowsI_1)), E: toPts(rasterE_1).concat(rowPts(rowsE_1)), rho: "1", i: 1 },
  { bx: 555, I: toPts(rasterI_05).concat(rowPts(rowsI_05)), E: toPts(rasterE_05).concat(rowPts(rowsE_05)), rho: ".5", i: 2 }
];
const yE = d3.scaleLinear([0, 200], [550, 400.7]);
rasters.forEach(r => {
  const xE = d3.scaleLinear([0, 243], [r.bx, r.bx + 140]);
  svg.append("g").selectAll("circle").data(r.E).join("circle")
    .attr("cx", d => xE(d[0])).attr("cy", d => yE(d[1])).attr("r", 1.15).attr("fill", C_EBLUE[r.i]);
  svg.append("g").selectAll("circle").data(r.I).join("circle")
    .attr("cx", d => xE(d[0])).attr("cy", d => yE(d[1])).attr("r", 1.15).attr("fill", C_RED[r.i]);
  svg.append("rect").attr("x", r.bx).attr("y", 400.7).attr("width", 140).attr("height", 149.3)
    .attr("fill", "none").attr("stroke", "#9a9a9a").attr("stroke-width", 1.2);
  const gx = axis(d3.axisBottom(xE).tickValues(neuronTicks).tickFormat(d => String(d)).tickSize(0).tickPadding(2), 0, 550, 17);
  gx.select(".domain").remove();
  const gy = axis(d3.axisLeft(yE).tickValues(neuronTicks).tickFormat(d => String(d)).tickSize(0).tickPadding(4), r.bx, 0, 17);
  gy.select(".domain").remove();
  rhoLabel(r.bx + 70, 393, r.rho, 19, "middle");
});
txt(0, 402, "E", { fs: 21, bold: true });
txt(53, 475, "Neuron number", { fs: 19, anchor: "middle", rot: true });
txt(407, 589, "Time (ms)", { fs: 20, anchor: "middle" });

// ---------- Panel F ----------
const fPanels = [
  { fx: 95, I: histI_2, E: histE_2, i: 0 },
  { fx: 319.3, I: histI_1, E: histE_1, i: 1 },
  { fx: 544.3, I: histI_05, E: histE_05, i: 2 }
];
const yFt = d3.scaleLinear([0, 0.73], [681.7, 621.7]);
const yFb = d3.scaleLinear([0, 0.35], [760.7, 701.5]);
fPanels.forEach(p => {
  const xF = d3.scaleLinear([0, 200], [p.fx, p.fx + 163]);
  const bars = (data, ys, color) => svg.append("g").selectAll("rect").data(data).join("rect")
    .attr("x", d => xF(d[0])).attr("width", d => Math.max(1.2, xF(d[0] + 2) - xF(d[0]) - 0.2))
    .attr("y", d => ys(d[1])).attr("height", d => ys(0) - ys(d[1])).attr("fill", color);
  bars(p.I, yFt, C_RED[p.i]);
  bars(p.E, yFb, C_EBLUE[p.i]);
  const fTicks = [0, 25, 50, 75, 100, 125, 150, 175, 200];
  axis(d3.axisBottom(xF).tickValues(fTicks).tickFormat(() => "").tickSizeInner(-2).tickSizeOuter(0), 0, 681.7, 17);
  axis(d3.axisBottom(xF).tickValues(fTicks).tickFormat(d => freqTicks.includes(d) ? String(d) : "").tickSizeInner(-2).tickSizeOuter(0).tickPadding(4), 0, 760.7, 17);
  axis(d3.axisLeft(yFt).tickValues([0, 0.2, 0.4, 0.6]).tickFormat(d => probTicksTop.includes(d) ? fmtNum(d) : "").tickSizeInner(-2).tickSizeOuter(0).tickPadding(4), p.fx, 0, 17);
  axis(d3.axisLeft(yFb).tickValues([0, 0.1, 0.2, 0.3]).tickFormat(d => probTicksBottom.includes(d) ? fmtNum(d) : "").tickSizeInner(-2).tickSizeOuter(0).tickPadding(4), p.fx, 0, 17);
});
txt(0, 618, "F", { fs: 21, bold: true });
txt(51, 702, "Probability", { fs: 19, anchor: "middle", rot: true });
txt(412, 799, "Frequency (Hz)", { fs: 19, anchor: "middle" });
</script>
</body></html>
